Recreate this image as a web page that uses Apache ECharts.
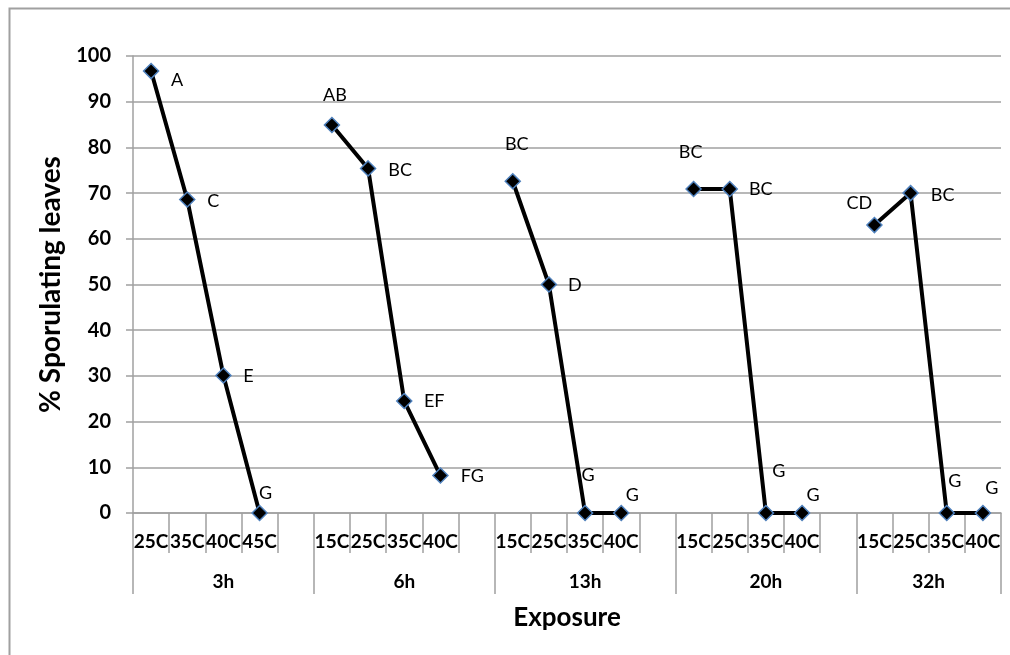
<!DOCTYPE html>
<html>
<head>
<meta charset="utf-8">
<script src="https://cdn.jsdelivr.net/npm/echarts@6/dist/echarts.min.js"></script>
<style>html,body{margin:0;padding:0;background:#fff;}#c{width:1010px;height:655px;}</style>
</head>
<body>
<div id="c"></div>
<script>
// ---- data ----
const slotLabels = ["25C","35C","40C","45C","",
                    "15C","25C","35C","40C","",
                    "15C","25C","35C","40C","",
                    "15C","25C","35C","40C","",
                    "15C","25C","35C","40C"];
const groupNames = ["3h","6h","13h","20h","32h"];
const groupStart = [0, 5, 10, 15, 20];
const vals3h  = [96.7, 68.6, 30.1, 0];
const vals6h  = [84.9, 75.4, 24.5, 8.2];
const vals13h = [72.6, 50.0, 0, 0];
const vals20h = [70.9, 70.9, 0, 0];
const vals32h = [63.0, 70.0, 0, 0];
const letters3h  = ["A","C","E","G"];
const letters6h  = ["AB","BC","EF","FG"];
const letters13h = ["BC","D","G","G"];
const letters20h = ["BC","BC","G","G"];
const letters32h = ["CD","BC","G","G"];
const yTicks = [0,10,20,30,40,50,60,70,80,90,100];

// ---- styles (label offsets relative to the point) ----
const offs3h  = [[26,9],[26,2],[25,1],[6,-20]];
const offs6h  = [[3,-30],[32,2],[30,0],[32,1]];
const offs13h = [[4,-37],[26,1],[3,-38],[11,-18]];
const offs20h = [[-3,-37],[31,0],[13,-42],[11,-18]];
const offs32h = [[-15,-22],[32,2],[8,-32],[9,-25]];

const allVals = [vals3h, vals6h, vals13h, vals20h, vals32h];
const allLetters = [letters3h, letters6h, letters13h, letters20h, letters32h];
const allOffs = [offs3h, offs6h, offs13h, offs20h, offs32h];

const FONT = 'Lato, "Open Sans", sans-serif';
const GRID_L = 133, GRID_R = 9, GRID_T = 56, GRID_B = 142;

const series = groupNames.map((g, gi) => {
  const data = slotLabels.map(() => null);
  allVals[gi].forEach((v, k) => {
    data[groupStart[gi] + k] = {
      value: v,
      label: { formatter: allLetters[gi][k], offset: allOffs[gi][k] }
    };
  });
  return {
    name: g, type: 'line', xAxisIndex: 0, yAxisIndex: 0,
    data: data, connectNulls: false, clip: false,
    symbol: 'diamond', symbolSize: 15,
    itemStyle: { color: '#000', borderColor: '#4F81BD', borderWidth: 1.5 },
    lineStyle: { color: '#000', width: 4 },
    label: { show: true, position: 'inside', color: '#000', fontSize: 18, fontFamily: FONT },
    z: 5
  };
});

const groupCenters = groupStart.map((s, i) => {
  const e = i < groupStart.length - 1 ? groupStart[i + 1] : slotLabels.length;
  return (s + e) / 2;
});
const groupBounds = groupStart.concat([slotLabels.length]);

const chart = echarts.init(document.getElementById('c'), null, { renderer: 'canvas' });
chart.setOption({
  animation: false,
  backgroundColor: '#fff',
  graphic: [{
    type: 'rect', left: 7, top: 6, shape: { width: 1020, height: 680 },
    style: { fill: 'none', stroke: '#A0A0A0', lineWidth: 2 }, silent: true
  }],
  grid: { left: GRID_L, right: GRID_R, top: GRID_T, bottom: GRID_B },
  xAxis: [{
    type: 'category', data: slotLabels, boundaryGap: true,
    axisLine: { show: true, lineStyle: { color: '#A0A0A0', width: 1.5 } },
    axisTick: { show: true, interval: 0, length: 40, lineStyle: { color: '#A0A0A0', width: 1.5 } },
    axisLabel: { interval: 0, margin: 19, fontFamily: FONT, fontWeight: 'bold', fontSize: 19, color: '#000' },
    splitLine: { show: false }
  }, {
    type: 'value', min: 0, max: slotLabels.length, position: 'bottom',
    axisLine: { show: false },
    axisTick: { show: true, customValues: groupBounds, length: 81, lineStyle: { color: '#A0A0A0', width: 1.5 } },
    axisLabel: {
      customValues: groupCenters, margin: 59, fontFamily: FONT, fontWeight: 'bold', fontSize: 19, color: '#000',
      formatter: (v) => { const i = groupCenters.indexOf(v); return i >= 0 ? groupNames[i] : ''; }
    },
    splitLine: { show: false },
    name: 'Exposure', nameLocation: 'middle', nameGap: 92,
    nameTextStyle: { fontFamily: FONT, fontWeight: 'bold', fontSize: 26, color: '#000' }
  }],
  yAxis: {
    type: 'value', min: 0, max: 100, interval: 10,
    axisLine: { show: true, lineStyle: { color: '#A0A0A0', width: 1.5 } },
    axisTick: { show: true, length: 7, lineStyle: { color: '#A0A0A0', width: 1.5 } },
    axisLabel: { margin: 22, fontFamily: FONT, fontWeight: 'bold', fontSize: 20, color: '#000',
      formatter: (v) => yTicks.indexOf(v) >= 0 ? String(v) : '' },
    splitLine: { show: true, lineStyle: { color: '#A0A0A0', width: 1.5 } },
    name: '% Sporulating leaves', nameLocation: 'middle', nameGap: 63, nameRotate: 90,
    nameTextStyle: { fontFamily: FONT, fontWeight: 'bold', fontSize: 28, color: '#000' }
  },
  series: series
});
</script>
</body>
</html>
